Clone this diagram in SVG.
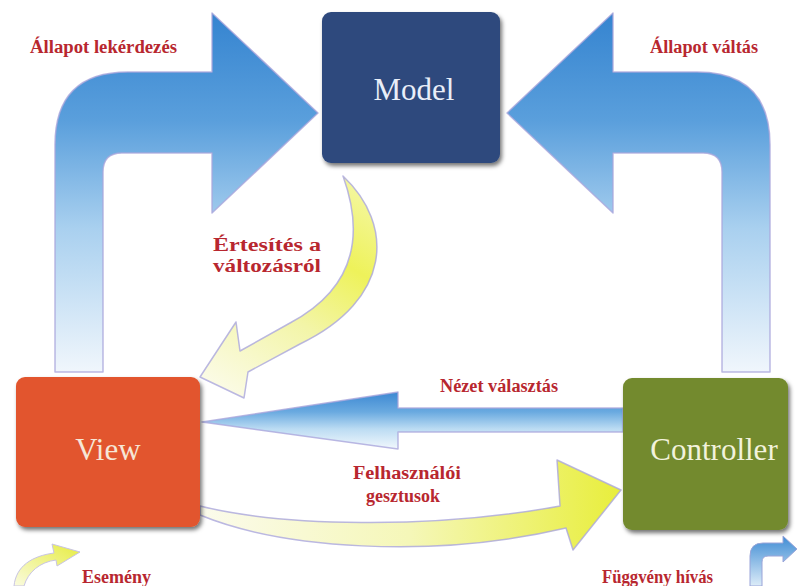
<svg xmlns="http://www.w3.org/2000/svg" width="797" height="586" viewBox="0 0 797 586">
<defs>
  <linearGradient id="gBig" gradientUnits="userSpaceOnUse" x1="0" y1="13" x2="0" y2="372">
    <stop offset="0" stop-color="#3584d0"/>
    <stop offset="0.3" stop-color="#5a9fdc"/>
    <stop offset="0.6" stop-color="#a9d0ef"/>
    <stop offset="1" stop-color="#f0f6fc"/>
  </linearGradient>
  <linearGradient id="gHor" gradientUnits="userSpaceOnUse" x1="0" y1="392" x2="0" y2="449">
    <stop offset="0" stop-color="#3c88d2"/>
    <stop offset="0.35" stop-color="#6aaae0"/>
    <stop offset="0.65" stop-color="#bcdcf3"/>
    <stop offset="1" stop-color="#f2f8fd"/>
  </linearGradient>
  <linearGradient id="gYel1" gradientUnits="userSpaceOnUse" x1="350" y1="180" x2="220" y2="390">
    <stop offset="0" stop-color="#f4f7a0"/>
    <stop offset="0.3" stop-color="#eef25a"/>
    <stop offset="0.6" stop-color="#f3f5a8"/>
    <stop offset="1" stop-color="#fbfbe6"/>
  </linearGradient>
  <linearGradient id="gYel2" gradientUnits="userSpaceOnUse" x1="200" y1="0" x2="620" y2="0">
    <stop offset="0" stop-color="#fbfbec"/>
    <stop offset="0.5" stop-color="#f5f7b8"/>
    <stop offset="1" stop-color="#e8ee3c"/>
  </linearGradient>
  <linearGradient id="gYelS" x1="0" y1="1" x2="1" y2="0">
    <stop offset="0" stop-color="#fafbe0"/>
    <stop offset="1" stop-color="#e6ec40"/>
  </linearGradient>
  <linearGradient id="gBlueS" x1="0" y1="0" x2="0" y2="1">
    <stop offset="0" stop-color="#3f8cd4"/>
    <stop offset="1" stop-color="#dcecf8"/>
  </linearGradient>
  <filter id="sh" x="-10%" y="-10%" width="130%" height="130%">
    <feDropShadow dx="2" dy="3" stdDeviation="2" flood-color="#000" flood-opacity="0.55"/>
  </filter>
</defs>
<style>
  .lbl { font-family: "Liberation Serif", "Times New Roman", serif; font-weight: bold; font-size: 18px; fill: #b8272f; }
  .node { font-family: "Liberation Serif", "Times New Roman", serif; font-size: 31px; text-anchor: middle; }
  .edge { stroke: #aaa6dc; stroke-width: 1.5; stroke-opacity: 0.8; stroke-linejoin: round; }
</style>
<rect width="797" height="586" fill="#ffffff"/>

<g id="connectors">
  <path id="e-view-model" class="edge" fill="url(#gBig)" d="M55,372 L55,145 Q55,72 128,72 L212,72 L212,13 L318,113 L212,213 L212,153 L122,153 Q103,153 103,172 L103,372 Z"/>
  <path id="e-controller-model" class="edge" fill="url(#gBig)" transform="translate(825,0) scale(-1,1)" d="M55,372 L55,145 Q55,72 128,72 L212,72 L212,13 L318,113 L212,213 L212,153 L122,153 Q103,153 103,172 L103,372 Z"/>
  <path id="e-model-view" class="edge" fill="url(#gYel1)" d="M343,176 C395,225 392,300 300,344 L248,372 L244,398 L200,377 L236,322 L240,351 L290,323 C352,290 366,240 343,176 Z"/>
  <path id="e-controller-view" class="edge" fill="url(#gHor)" d="M623,408 L398,408 L398,392 L202,422 L398,449 L398,432 L623,432 Z"/>
  <path id="e-view-controller" class="edge" fill="url(#gYel2)" d="M200,506 C280,526 430,530 560,506 L557,460 L621,490 L573,550 L566,528 C430,560 280,548 200,515 Z"/>
  <text class="lbl" x="30" y="53" textLength="147" lengthAdjust="spacingAndGlyphs">Állapot lekérdezés</text>
  <text class="lbl" x="650" y="53" textLength="108" lengthAdjust="spacingAndGlyphs">Állapot váltás</text>
  <text class="lbl" x="213" y="251" textLength="108" lengthAdjust="spacingAndGlyphs">Értesítés a</text>
  <text class="lbl" x="213" y="272" textLength="108" lengthAdjust="spacingAndGlyphs">változásról</text>
  <text class="lbl" x="440" y="392" textLength="118" lengthAdjust="spacingAndGlyphs">Nézet választás</text>
  <text class="lbl" x="353" y="479" textLength="108" lengthAdjust="spacingAndGlyphs">Felhasználói</text>
  <text class="lbl" x="366" y="502" textLength="74" lengthAdjust="spacingAndGlyphs">gesztusok</text>
</g>

<g id="model">
  <rect x="322" y="12" width="178" height="151" rx="9" fill="#2f4a7d" filter="url(#sh)"/>
  <text class="node" x="414" y="100" fill="#e9eef8">Model</text>
</g>
<g id="view">
  <rect x="16" y="377" width="184" height="150" rx="9" fill="#e2552d" filter="url(#sh)"/>
  <text class="node" x="108" y="460" fill="#f6e6d6">View</text>
</g>
<g id="controller">
  <rect x="623" y="378" width="165" height="152" rx="9" fill="#738a2f" filter="url(#sh)"/>
  <text class="node" x="714" y="460" fill="#f2f2dc">Controller</text>
</g>

<g id="legend">
  <path fill="url(#gYelS)" stroke="#c8c4e4" stroke-width="1" d="M14,586 C16,566 32,556 54,553 L52,544 L80,552 L57,566 L56,560 C40,562 28,572 24,586 Z"/>
  <text class="lbl" x="82" y="583">Esemény</text>
  <text class="lbl" x="602" y="583" textLength="111" lengthAdjust="spacingAndGlyphs">Függvény hívás</text>
  <path fill="url(#gBlueS)" stroke="#9aa4d8" stroke-width="1" d="M750,586 L750,556 Q750,543 763,543 L783,543 L783,536 L797,549 L783,562 L783,556 L768,556 Q762,556 762,562 L762,586 Z"/>
</g>
</svg>
